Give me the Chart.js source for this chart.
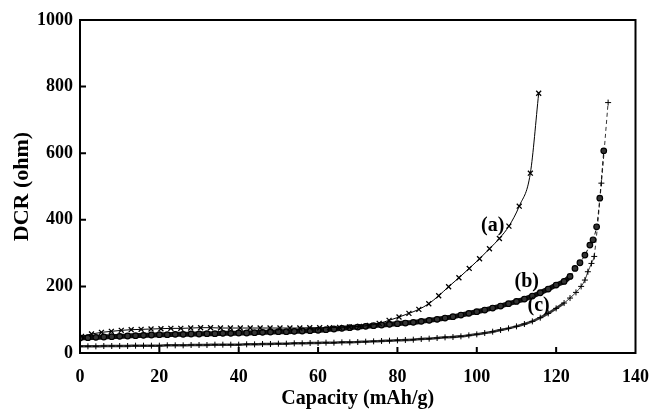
<!DOCTYPE html>
<html><head><meta charset="utf-8">
<script src="https://cdn.jsdelivr.net/npm/chart.js@4/dist/chart.umd.min.js"></script>
<style>html,body{margin:0;padding:0;background:#fff}#wrap{width:663px;height:411px}</style>
</head><body><div id="wrap"><canvas id="c" width="663" height="411"></canvas></div>
<script>
const xTicks = [0,20,40,60,80,100,120,140];
const yTicks = [0,200,400,600,800,1000];

const capA = [0.4,2.9,5.4,7.9,10.4,12.9,15.4,17.9,20.4,22.9,25.4,27.9,30.4,32.9,35.4,37.9,40.4,42.9,45.4,47.9,50.4,52.9,55.4,57.9,60.4,62.9,65.4,67.9,70.4,72.9,75.4,77.9,80.4,82.9,85.4,87.9,90.4,92.9,95.5,98.1,100.7,103.2,105.7,108.1,110.7,113.5,115.6];
const dcrA = [50,57,62,65,68,70,71,72,73,74,74,75,76,76,75,75,75,75,75,75,75,75,75,76,76,76,77,78,80,83,89,98,108,119,131,148,172,199,226,254,283,313,344,381,441,540,780];

const capB = [0,2,4,6,8,10,12,14,16,18,20,22,24,26,28,30,32,34,36,38,40,42,44,46,48,50,52,54,56,58,60,62,64,66,68,70,72,74,76,78,80,82,84,86,88,90,92,94,96,98,100,102,104,106,108,110,112,114,116,118,120,122,123.5,124.75,126,127.25,128.5,129.3,130.2,131,132];
const dcrB = [45,46,47,48,49,50,51,52,53,54,55,55,56,56,57,57,58,58,59,59,60,60,61,62,63,64,64,65,66,67,68,70,72,74,76,78,80,82,84,86,88,90,92,95,98,101,105,109,114,119,124,129,135,141,148,155,162,171,181,192,204,215,230,254,271,294,324,340,379,465,607];

const capC = [0,2,4,6,8,10,12,14,16,18,20,22,24,26,28,30,32,34,36,38,40,42,44,46,48,50,52,54,56,58,60,62,64,66,68,70,72,74,76,78,80,82,84,86,88,90,92,94,96,98,100,102,104,106,108,110,112,114,116,118,120,122,123.5,125,126.3,127.25,128,128.9,129.6,131.4,133.1];
const dcrC = [20,20,20,21,21,21,21,22,22,22,22,23,23,23,24,24,24,25,25,25,25,26,26,27,27,28,28,29,29,30,30,31,31,32,32,33,34,35,36,37,38,39,40,42,43,45,47,48,50,53,56,60,64,69,74,80,87,95,106,119,134,150,165,182,200,219,244,269,290,510,752];

const curveLabels = ['(a)','(b)','(c)'];
const labelCap = [104,112.6,115.6];
const labelDcr = [381,213,141];

const xTitle = 'Capacity (mAh/g)';
const yTitle = 'DCR (ohm)';

const FONT = "'Liberation Serif','Times New Roman',serif";
const pts = (xs, ys) => xs.map((x, i) => ({x: x, y: ys[i]}));

const framePlugin = {
  id: 'frame',
  afterDatasetsDraw(chart) {
    const {ctx, chartArea: a, scales} = chart;
    ctx.save();
    ctx.strokeStyle = '#000';
    ctx.lineWidth = 2;
    ctx.strokeRect(a.left, a.top, a.right - a.left, a.bottom - a.top);
    ctx.beginPath();
    xTicks.forEach(v => {
      const px = scales.x.getPixelForValue(v);
      if (px > a.left + 2 && px < a.right - 2) { ctx.moveTo(px, a.bottom); ctx.lineTo(px, a.bottom - 6); }
    });
    yTicks.forEach(v => {
      const py = scales.y.getPixelForValue(v);
      if (py > a.top + 2 && py < a.bottom - 2) { ctx.moveTo(a.left, py); ctx.lineTo(a.left + 6, py); }
    });
    ctx.stroke();
    ctx.fillStyle = '#000';
    ctx.font = 'bold 20px ' + FONT;
    ctx.textAlign = 'center';
    ctx.textBaseline = 'middle';
    curveLabels.forEach((t, i) => {
      ctx.fillText(t, scales.x.getPixelForValue(labelCap[i]), scales.y.getPixelForValue(labelDcr[i]));
    });
    ctx.restore();
  }
};

new Chart(document.getElementById('c'), {
  type: 'line',
  data: {
    datasets: [
      {
        label: 'a', data: pts(capA, dcrA),
        borderColor: '#000', borderWidth: 1, cubicInterpolationMode: 'monotone',
        pointStyle: 'crossRot', pointRadius: 3.5, pointBorderWidth: 1.3, pointBorderColor: '#000', pointBackgroundColor: '#000'
      },
      {
        label: 'b', data: pts(capB, dcrB),
        borderColor: '#111', borderWidth: 5, tension: 0.3,
        pointStyle: 'circle', pointRadius: 2.8, pointBorderWidth: 1.2, pointBorderColor: '#000', pointBackgroundColor: '#333',
        segment: {
          borderDash: ctx => ctx.p0.parsed.x >= 123.5 ? [4, 3] : undefined,
          borderWidth: ctx => ctx.p0.parsed.x >= 123.5 ? 1 : 5
        }
      },
      {
        label: 'c', data: pts(capC, dcrC),
        borderColor: '#333', borderWidth: 2.5, tension: 0.3,
        pointStyle: 'cross', pointRadius: 3, pointBorderWidth: 1, pointBorderColor: '#000',
        segment: {
          borderDash: ctx => ctx.p0.parsed.x >= 129.6 ? [4, 3] : undefined,
          borderWidth: ctx => ctx.p0.parsed.x >= 122 ? 1 : 2.5
        }
      }
    ]
  },
  options: {
    responsive: false,
    animation: false,
    devicePixelRatio: 1,
    layout: {padding: {top: 20, right: 22, left: 0, bottom: 0}},
    plugins: {legend: {display: false}, tooltip: {enabled: false}},
    scales: {
      x: {
        type: 'linear', min: 0, max: 140,
        afterBuildTicks: s => { s.ticks = xTicks.map(v => ({value: v})); },
        afterFit: s => { s.height = 58; },
        grid: {display: false, drawTicks: false},
        border: {display: false},
        ticks: {color: '#000', font: {family: FONT, size: 18, weight: 'bold'}, padding: 14, maxRotation: 0, callback: v => String(v)},
        title: {display: true, text: xTitle, color: '#000', font: {family: FONT, size: 20, weight: 'bold', lineHeight: 1.2}, padding: {top: 0, bottom: 0}}
      },
      y: {
        type: 'linear', min: 0, max: 1000,
        afterBuildTicks: s => { s.ticks = yTicks.map(v => ({value: v})); },
        afterFit: s => { s.width = 80; },
        grid: {display: false, drawTicks: false},
        border: {display: false},
        ticks: {color: '#000', font: {family: FONT, size: 18, weight: 'bold'}, padding: 7, callback: v => String(v)},
        title: {display: true, text: yTitle, color: '#000', font: {family: FONT, size: 22, weight: 'bold', lineHeight: 1.2}, padding: {top: 9, bottom: 0}}
      }
    }
  },
  plugins: [framePlugin]
});
</script>
</body></html>
